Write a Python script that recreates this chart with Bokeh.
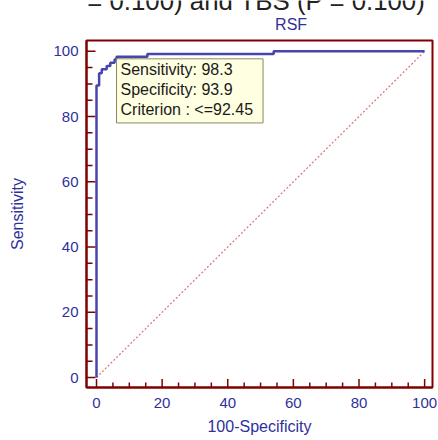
from bokeh.plotting import figure
from bokeh.layouts import column
from bokeh.models import Range1d, FixedTicker, Label
from bokeh.embed import file_html
from bokeh.resources import INLINE

# ROC curve vertices (100-Specificity, Sensitivity)
fpr = [0, 0, 0.8, 0.8, 1.6, 1.6, 3.1, 3.1, 4.2, 4.2, 5.5, 5.5, 6.1, 6.1, 15.5, 15.5, 54.0, 54.0, 100]
sens = [0, 89.5, 89.5, 93.3, 93.3, 94.5, 94.5, 95.5, 95.5, 96.5, 96.5, 97.5, 97.5, 98.3, 98.3, 99.2, 99.2, 100, 100]
diag_x = [0, 100]
diag_y = [0, 100]
major_ticks = [0, 20, 40, 60, 80, 100]
minor_ticks = [5, 10, 15, 25, 30, 35, 45, 50, 55, 65, 70, 75, 85, 90, 95]
crit_sens = 98.3
crit_spec = 93.9
criterion = "<=92.45"
title_text = "RSF"
caption_text = "Albumin (P = 0.100) and TBS (P = 0.100)"

BLUE_TXT = "#30309C"
MAROON = "#800000"
FONT = "Liberation Sans"

X0, X1 = -3.05, 102.4
Y0, Y1 = -3.06, 103.3
FW, FH = 346, 347  # frame size in px

# --- header strip: cut caption of the source figure + panel title ---
HEAD_H = 36
head = figure(width=438, height=HEAD_H, output_backend="svg", toolbar_location=None,
              x_range=Range1d(0, 438), y_range=Range1d(0, HEAD_H),
              x_axis_type=None, y_axis_type=None, min_border=0,
              outline_line_color=None, background_fill_color="white", border_fill_color="white")
head.xgrid.visible = False
head.ygrid.visible = False
head.add_layout(Label(x=430, y=HEAD_H, text=caption_text, text_font=FONT,
                      text_font_size="25.8px", text_color="#222222",
                      text_align="right", text_baseline="alphabetic"))
head.add_layout(Label(x=259, y=12.5, text=title_text, text_font=FONT,
                      text_font_size="16px", text_color=BLUE_TXT,
                      text_align="center", text_baseline="alphabetic"))

# --- main ROC plot ---
p = figure(width=438, height=440 - HEAD_H, output_backend="svg", toolbar_location=None,
           x_range=Range1d(X0, X1), y_range=Range1d(Y0, Y1),
           min_border_left=86, min_border_right=6, min_border_top=40 - HEAD_H, min_border_bottom=53,
           background_fill_color="white", border_fill_color="white")

p.outline_line_color = MAROON
p.outline_line_width = 2
p.xgrid.visible = False
p.ygrid.visible = False

for ax in (p.xaxis[0], p.yaxis[0]):
    ax.ticker = FixedTicker(ticks=major_ticks, minor_ticks=minor_ticks)
    ax.axis_line_color = MAROON
    ax.axis_line_width = 2
    ax.major_tick_out = 0
    ax.minor_tick_out = 0
    ax.major_tick_in = 0
    ax.minor_tick_in = 0
    ax.major_label_text_font = FONT
    ax.major_label_text_font_size = "15px"
    ax.major_label_text_color = BLUE_TXT
    ax.axis_label_text_font = FONT
    ax.axis_label_text_font_size = "16px"
    ax.axis_label_text_font_style = "normal"
    ax.axis_label_text_color = BLUE_TXT

p.xaxis.axis_label = "100-Specificity"
p.yaxis.axis_label = "Sensitivity"
p.xaxis.major_label_standoff = 10
p.yaxis.major_label_standoff = 8
p.xaxis.axis_label_standoff = 7
p.yaxis.axis_label_standoff = 24

# inward tick marks drawn at the frame edges
sx = FW / (X1 - X0)
sy = FH / (Y1 - Y0)
tick_kw = dict(line_color=MAROON, line_width=1.5)
p.segment(x0=[X0] * len(major_ticks), y0=major_ticks,
          x1=[X0 + 9 / sx] * len(major_ticks), y1=major_ticks, **tick_kw)
p.segment(x0=[X0] * len(minor_ticks), y0=minor_ticks,
          x1=[X0 + 6 / sx] * len(minor_ticks), y1=minor_ticks, **tick_kw)
p.segment(x0=major_ticks, y0=[Y0] * len(major_ticks),
          x1=major_ticks, y1=[Y0 + 8.5 / sy] * len(major_ticks), **tick_kw)
p.segment(x0=minor_ticks, y0=[Y0] * len(minor_ticks),
          x1=minor_ticks, y1=[Y0 + 5 / sy] * len(minor_ticks), **tick_kw)

p.line(diag_x, diag_y, line_color="#D07878", line_width=1.2, line_dash="2 2")
p.line(fpr, sens, line_color="#4646AC", line_width=2.5)

box = Label(x=100 - crit_spec, y=crit_sens,
            text=f"Sensitivity: {crit_sens}\nSpecificity: {crit_spec}\nCriterion : {criterion}",
            text_font=FONT, text_font_size="16px", text_color="#1A1A1A",
            text_align="left", text_baseline="top", text_line_height=1.18,
            background_fill_color="#FFFFE1", border_line_color="#8A8A60", border_line_width=1,
            padding=(4, 10, 2, 5), x_offset=0, y_offset=-2)
p.add_layout(box)

layout = column(head, p, spacing=0)
open("out.html", "w").write(file_html(layout, INLINE))
